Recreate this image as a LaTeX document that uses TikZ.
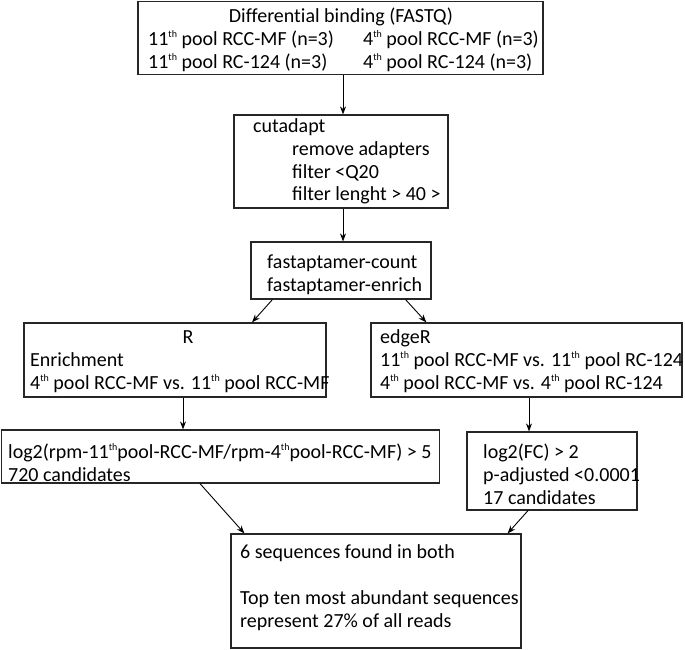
\documentclass[tikz,border=0pt]{standalone}
\usepackage{fontspec}
\setmainfont{Carlito}
\usetikzlibrary{arrows.meta,calc}
\newcommand{\thsup}{\raisebox{0.75ex}{\fontsize{10}{10}\selectfont th}}
\begin{document}
\begin{tikzpicture}[x=1pt,y=-1pt,
  box/.style={draw=black!85,line width=1.2pt,inner sep=0pt},
  txt/.style={inner sep=0pt,font=\fontsize{20}{23}\selectfont},
  arr/.style={draw=black,line width=0.9pt,-{Stealth[length=8pt,width=6pt]}}]
\useasboundingbox (0,0) rectangle (685,649);
% boxes
\node[box,minimum width=405pt,minimum height=73pt] (top) at (340.5,38) {};
\node[box,minimum width=214pt,minimum height=93pt] (cut) at (341,161.5) {};
\node[box,minimum width=180pt,minimum height=57pt] (fast) at (341,270.5) {};
\node[box,minimum width=302pt,minimum height=74pt] (R) at (175,360) {};
\node[box,minimum width=311pt,minimum height=74pt] (edge) at (526.5,360) {};
\node[box,minimum width=438pt,minimum height=53pt] (logr) at (220.5,456.5) {};
\node[box,minimum width=170pt,minimum height=78pt] (fc) at (552,471) {};
\node[box,minimum width=290pt,minimum height=114pt] (bot) at (376,591) {};
% texts
\node[txt,anchor=base] (t0) at (341,22) {\addfontfeatures{Ligatures=NoCommon}Differential binding (FASTQ)};
\node[txt,anchor=base west] (t1) at (148,45) {11\thsup{} pool RCC-MF (n=3)};
\node[txt,anchor=base west] (t2) at (148,68) {11\thsup{} pool RC-124 (n=3)};
\node[txt,anchor=base west] (t3) at (363,45) {4\thsup{} pool RCC-MF (n=3)};
\node[txt,anchor=base west] (t4) at (363,68) {4\thsup{} pool RC-124 (n=3)};
\node[txt,anchor=base west] (c1) at (253,132) {cutadapt};
\node[txt,anchor=base west] (c2) at (292,155) {remove adapters};
\node[txt,anchor=base west] (c3) at (292,178) {filter <Q20};
\node[txt,anchor=base west] (c4) at (292,200) {filter lenght > 40 >};
\node[txt,anchor=base west] (f1) at (267,268) {fastaptamer-count};
\node[txt,anchor=base west] (f2) at (267,291) {fastaptamer-enrich};
\node[txt,anchor=base] (r1) at (188,343) {R};
\node[txt,anchor=base west] (r2) at (30,366) {Enrichment};
\node[txt,anchor=base west] (r3) at (30,389) {4\thsup{} pool RCC-MF vs. 11\thsup{} pool RCC-MF};
\node[txt,anchor=base west] (e1) at (380,343) {edgeR};
\node[txt,anchor=base west] (e2) at (380,366) {11\thsup{} pool RCC-MF vs. 11\thsup{} pool RC-124};
\node[txt,anchor=base west] (e3) at (380,389) {4\thsup{} pool RCC-MF vs. 4\thsup{} pool RC-124};
\node[txt,anchor=base west] (l1) at (8,458) {log2(rpm-11\thsup pool-RCC-MF/rpm-4\thsup pool-RCC-MF) > 5};
\node[txt,anchor=base west] (l2) at (8,481) {720 candidates};
\node[txt,anchor=base west] (g1) at (483,458) {log2(FC) > 2};
\node[txt,anchor=base west] (g2) at (483,481) {p-adjusted <0.0001};
\node[txt,anchor=base west] (g3) at (483,504) {17 candidates};
\node[txt,anchor=base west] (b1) at (240,558) {6 sequences found in both};
\node[txt,anchor=base west] (b2) at (240,604) {Top ten most abundant sequences};
\node[txt,anchor=base west] (b3) at (240,627) {represent 27\% of all reads};
% connectors
\draw[arr] ([xshift=2.5pt]top.south) -- ([xshift=2.5pt]top.south |- cut.north);
\draw[arr] ([xshift=2pt]cut.south) -- ([xshift=2pt]cut.south |- fast.north);
\draw[arr] ([xshift=22pt]fast.south west) -- ([xshift=77pt]R.north);
\draw[arr] ([xshift=-26pt]fast.south east) -- ([xshift=56pt]edge.north west);
\draw[arr] ([xshift=8pt]R.south) -- ([xshift=8pt]R.south |- logr.north);
\draw[arr] ([xshift=2.5pt]edge.south) -- ([xshift=2.5pt]edge.south |- fc.north);
\draw[arr] ([xshift=-20.5pt]logr.south) -- ([xshift=14pt]bot.north west);
\draw[arr] ([xshift=-24pt]fc.south) -- ([xshift=-14pt]bot.north east);
\end{tikzpicture}
\end{document}
